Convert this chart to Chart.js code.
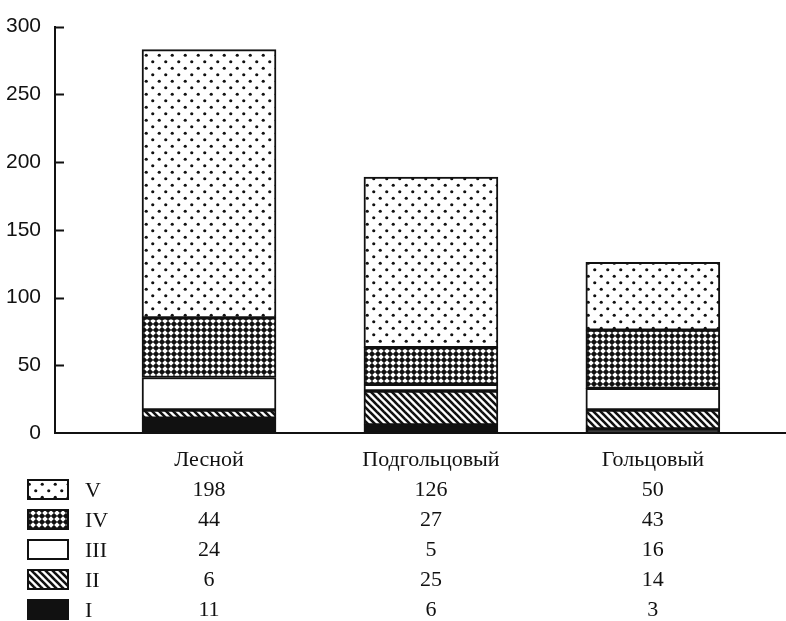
<!DOCTYPE html>
<html>
<head>
<meta charset="utf-8">
<script src="https://cdn.jsdelivr.net/npm/chart.js@4/dist/chart.umd.min.js"></script>
<style>
  body { margin: 0; background: #fff; }
</style>
</head>
<body>
<canvas id="chart" width="786" height="621"></canvas>
<script>
const categories = ['Лесной', 'Подгольцовый', 'Гольцовый'];
const seriesNames = ['I', 'II', 'III', 'IV', 'V'];
const valuesI = [11, 6, 3];
const valuesII = [6, 25, 14];
const valuesIII = [24, 5, 16];
const valuesIV = [44, 27, 43];
const valuesV = [198, 126, 50];
const yTicks = [0, 50, 100, 150, 200, 250, 300];

const series = [valuesI, valuesII, valuesIII, valuesIV, valuesV];

const serif = "'Liberation Serif', 'Times New Roman', serif";
const rowHeight = 30;
const labelPad = 12;

function makePattern(w, h, draw) {
    const c = document.createElement('canvas');
    c.width = w;
    c.height = h;
    const g = c.getContext('2d');
    draw(g, w, h);
    return g.createPattern(c, 'repeat');
}

const solid = '#111';

const hatch = makePattern(7, 7, (g, w, h) => {
    g.fillStyle = '#fff';
    g.fillRect(0, 0, w, h);
    g.strokeStyle = solid;
    g.lineWidth = 2.6;
    for (const k of [-7, 0, 7]) {
        g.beginPath();
        g.moveTo(k - 1, -1);
        g.lineTo(k + 8, 8);
        g.stroke();
    }
});

const cross = makePattern(6, 6, (g, w, h) => {
    g.fillStyle = solid;
    g.fillRect(0, 0, w, h);
    g.fillStyle = '#fff';
    g.beginPath();
    g.moveTo(3, 0.2);
    g.lineTo(5.8, 3);
    g.lineTo(3, 5.8);
    g.lineTo(0.2, 3);
    g.closePath();
    g.fill();
});

const dots = makePattern(13, 13, (g, w, h) => {
    g.fillStyle = '#fff';
    g.fillRect(0, 0, w, h);
    g.fillStyle = solid;
    for (const [x, y] of [[3.25, 3.25], [9.75, 9.75]]) {
        g.beginPath();
        g.arc(x, y, 1.6, 0, Math.PI * 2);
        g.fill();
    }
});

const fills = [solid, hatch, '#fff', cross, dots];

const datasets = series.map((vals, s) => ({
    label: seriesNames[s],
    data: vals.map((v, i) => ({ x: i, y: v })),
    backgroundColor: fills[s],
    borderColor: '#111',
    borderWidth: 2,
    borderSkipped: false,
    barThickness: 134
}));

// inner tick marks on the y axis + legend column of the table
const extras = {
    id: 'extras',
    afterDraw(chart) {
        const ctx = chart.ctx;
        const y = chart.scales.y;
        const x = chart.scales.x;
        ctx.save();
        ctx.strokeStyle = '#111';
        ctx.lineWidth = 2;
        ctx.beginPath();
        y.ticks.forEach(t => {
            if (t.value === 0) return;
            const py = Math.round(y.getPixelForValue(t.value)) + 0.5;
            ctx.moveTo(y.right, py);
            ctx.lineTo(y.right + 9, py);
        });
        ctx.stroke();

        ctx.font = '22px ' + serif;
        ctx.textBaseline = 'middle';
        for (let j = 0; j < 5; j++) {
            const s = 4 - j;
            const cy = x.top + labelPad + rowHeight * (j + 1.5);
            ctx.fillStyle = fills[s];
            ctx.fillRect(28, cy - 10, 40, 19);
            ctx.strokeRect(28, cy - 10, 40, 19);
            ctx.fillStyle = '#111';
            ctx.fillText(seriesNames[s], 85, cy + 1);
        }
        ctx.restore();
    }
};

new Chart(document.getElementById('chart'), {
    type: 'bar',
    data: { datasets },
    options: {
        responsive: false,
        devicePixelRatio: 1,
        animation: false,
        layout: { padding: { top: 16, left: 0, right: 0, bottom: 0 } },
        plugins: {
            legend: { display: false },
            tooltip: { enabled: false }
        },
        scales: {
            x: {
                type: 'linear',
                stacked: true,
                offset: false,
                min: -0.694,
                max: 2.6,
                grid: { display: false, drawTicks: false, offset: false },
                border: { display: true, color: '#111', width: 2 },
                afterBuildTicks: scale => {
                    scale.ticks = categories.map((c, i) => ({ value: i }));
                },
                afterFit: scale => { scale.height = 188; },
                ticks: {
                    autoSkip: false,
                    maxRotation: 0,
                    padding: labelPad,
                    color: '#111',
                    font: { family: serif, size: 22, lineHeight: rowHeight / 22 },
                    callback: (value, index) => [
                        categories[index],
                        String(valuesV[index]),
                        String(valuesIV[index]),
                        String(valuesIII[index]),
                        String(valuesII[index]),
                        String(valuesI[index])
                    ]
                }
            },
            y: {
                stacked: true,
                min: yTicks[0],
                max: yTicks[yTicks.length - 1],
                grid: { display: false, drawTicks: false },
                border: { display: true, color: '#111', width: 2 },
                afterFit: scale => { scale.width = 55; },
                afterBuildTicks: scale => {
                    scale.ticks = yTicks.map(v => ({ value: v }));
                },
                ticks: {
                    padding: 14,
                    color: '#111',
                    font: { family: "'Liberation Sans', Arial, sans-serif", size: 21 }
                }
            }
        }
    },
    plugins: [extras]
});
</script>
</body>
</html>
